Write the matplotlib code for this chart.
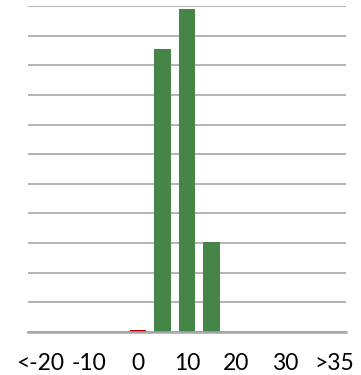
import matplotlib.pyplot as plt

# bins of the histogram, every other one gets a tick label
BINS = ["<-20", "-15", "-10", "-5", "0", "5", "10", "15", "20", "25", "30", "35", ">35"]
TICK_LABELS = ["<-20", "", "-10", "", "0", "", "10", "", "20", "", "30", "", ">35"]
COUNTS = [0, 0, 0, 0, 0.08, 9.55, 10.9, 3.03, 0, 0, 0, 0, 0]
COLORS = ["#C00000" if b == "0" else "#478447" for b in BINS]

fig = plt.figure(figsize=(3.61, 3.75), dpi=100)
ax = fig.add_axes([28 / 361, 1 - 332 / 375, 318 / 361, 326 / 375])

x = range(len(BINS))
ax.bar(x, COUNTS, width=0.66, color=COLORS, zorder=3)

ax.set_xlim(-0.5, len(BINS) - 0.5)
ax.set_ylim(0, 11)
ax.set_yticks(range(0, 12))
ax.yaxis.grid(True, color="#a6a6a6", linewidth=1.2, zorder=0)
ax.tick_params(axis="y", length=0, labelleft=False)

ax.set_xticks(list(x))
ax.set_xticklabels(TICK_LABELS, fontsize=16.5, family="Lato")
ax.tick_params(axis="x", length=0, pad=15)

for side in ("left", "right", "top"):
    ax.spines[side].set_visible(False)
ax.spines["bottom"].set_color("#a6a6a6")
ax.spines["bottom"].set_linewidth(1.8)
ax.spines["bottom"].set_zorder(4)

fig.savefig("out.png", dpi=100)
